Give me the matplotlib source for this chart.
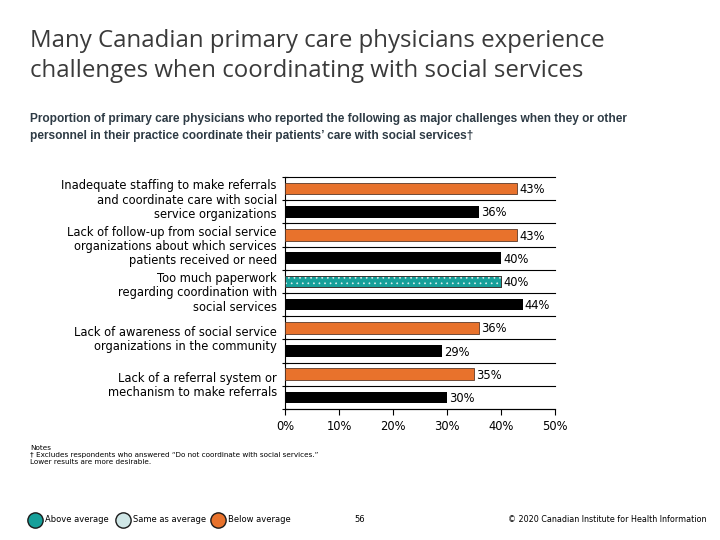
import numpy as np
import matplotlib
matplotlib.use("Agg")
import matplotlib.pyplot as plt
from matplotlib.lines import Line2D

# ── Data ──────────────────────────────────────────────────────────────────────
categories = [
    "Inadequate staffing to make referrals\nand coordinate care with social\nservice organizations",
    "Lack of follow-up from social service\norganizations about which services\npatients received or need",
    "Too much paperwork\nregarding coordination with\nsocial services",
    "Lack of awareness of social service\norganizations in the community",
    "Lack of a referral system or\nmechanism to make referrals",
]
canada = [43, 43, 40, 36, 35]
intl_avg = [36, 40, 44, 29, 30]
canada_status = ["below", "below", "above", "below", "below"]
xticks = [0, 10, 20, 30, 40, 50]

# ── Styles ────────────────────────────────────────────────────────────────────
ORANGE = "#e8722c"
TEAL = "#16a09a"
PALE = "#cfe6e6"
STATUS_COL = {"above": TEAL, "same": PALE, "below": ORANGE}
plt.rcParams["hatch.linewidth"] = 0.5

fig = plt.figure(figsize=(7.2, 5.4), dpi=100)
ax = fig.add_axes([285 / 720, 1 - 409 / 540, 270 / 720, 232 / 540])

n = len(categories)
y_can = np.arange(n) * 2
y_int = y_can + 1
h = 0.5

for i in range(n):
    col = STATUS_COL[canada_status[i]]
    ax.barh(y_can[i], canada[i], height=h, color=col, edgecolor="#5a3a2a",
            lw=0.6, zorder=3)
    if canada_status[i] == "above":
        ax.barh(y_can[i], canada[i], height=h, color="none", edgecolor="#dff2f1",
                hatch="...", lw=0, zorder=4)
        ax.barh(y_can[i], canada[i], height=h, color="none", edgecolor="#333333",
                lw=0.6, zorder=5)
    ax.barh(y_int[i], intl_avg[i], height=h, color="black", zorder=3)
    ax.text(canada[i] + 0.4, y_can[i] + 0.05, f"{canada[i]}%", ha="left",
            va="center", fontsize=8.3, color="black")
    ax.text(intl_avg[i] + 0.4, y_int[i] + 0.05, f"{intl_avg[i]}%", ha="left",
            va="center", fontsize=8.3, color="black")

# slot separator lines
for b in np.arange(-0.5, 2 * n, 1.0):
    ax.plot([0, 50], [b, b], color="black", lw=0.8, zorder=2, clip_on=False)

ax.set_xlim(0, 50)
ax.set_ylim(2 * n - 0.5, -0.5)
ax.set_xticks(xticks)
ax.set_xticklabels([f"{t}%" for t in xticks], fontsize=8.3)
ax.set_yticks(np.arange(-0.5, 2 * n, 1.0))
ax.set_yticklabels([])
ax.tick_params(axis="y", direction="inout", length=5, width=0.8)
ax.tick_params(axis="x", direction="out", length=4, width=0.8, pad=4)
ax.spines[["top", "right"]].set_visible(False)
ax.spines["left"].set_linewidth(0.8)
ax.spines["bottom"].set_linewidth(0.8)

for i, lab in enumerate(categories):
    ax.text(-1.5, y_can[i] + 0.5, lab, ha="right", va="center", fontsize=8.3,
            color="black", linespacing=1.12)

# ── Titles ────────────────────────────────────────────────────────────────────
fig.text(30 / 720, 1 - 56 / 540,
         "Many Canadian primary care physicians experience\n"
         "challenges when coordinating with social services",
         ha="left", va="center", fontsize=17.3, color="#3a3a3a",
         family="Open Sans", linespacing=1.33)
fig.text(30 / 720, 1 - 127.5 / 540,
         "Proportion of primary care physicians who reported the following as major challenges when they or other\n"
         "personnel in their practice coordinate their patients\u2019 care with social services\u2020",
         ha="left", va="center", fontsize=8.6, color="#2e3b45",
         family="Liberation Sans", fontweight="bold", linespacing=1.45)

# ── Notes ─────────────────────────────────────────────────────────────────────
fig.text(30 / 720, 1 - 455 / 540,
         "Notes\n\u2020 Excludes respondents who answered \u201cDo not coordinate with social services.\u201d\n"
         "Lower results are more desirable.",
         ha="left", va="center", fontsize=5.2, color="black", linespacing=1.25)

# ── Footer legend ─────────────────────────────────────────────────────────────
leg_items = [("Above average", TEAL, 35), ("Same as average", PALE, 123),
             ("Below average", ORANGE, 218)]
for lab, col, xp in leg_items:
    fig.add_artist(Line2D([xp / 720], [1 - 520 / 540], marker="o", ms=11,
                          color=col, mec="#1a1a1a", mew=1.0,
                          transform=fig.transFigure))
    fig.text((xp + 10) / 720, 1 - 520 / 540, lab, ha="left", va="center",
             fontsize=6, color="black")
fig.text(360 / 720, 1 - 519 / 540, "56", ha="center", va="center",
         fontsize=6, color="black")
fig.text(707 / 720, 1 - 519 / 540, "\u00a9 2020 Canadian Institute for Health Information",
         ha="right", va="center", fontsize=5.8, color="black")

plt.savefig("out.png", dpi=100)
plt.close()
